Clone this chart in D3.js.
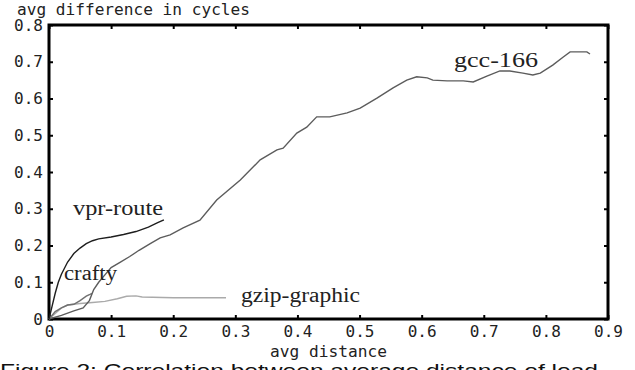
<!DOCTYPE html>
<html>
<head>
<meta charset="utf-8">
<script src="https://cdn.jsdelivr.net/npm/d3@7"></script>
<style>
  body { margin: 0; background: #fff; overflow: hidden; }
  .tick text { font-family: "DejaVu Sans Mono", monospace; font-size: 16px; fill: #222; }
  .lbl { font-family: "Liberation Serif", "Times New Roman", serif; font-size: 20px; fill: #222; }
  .axt { font-family: "DejaVu Sans Mono", monospace; font-size: 15px; fill: #222; }
</style>
</head>
<body>
<svg id="chart" width="635" height="370"></svg>
<script>
// data
var xTicks = [0, 0.1, 0.2, 0.3, 0.4, 0.5, 0.6, 0.7, 0.8, 0.9];
var yTicks = [0, 0.1, 0.2, 0.3, 0.4, 0.5, 0.6, 0.7, 0.8];

var gccX = [0, 0.02, 0.04, 0.055, 0.065, 0.072, 0.08, 0.09, 0.1, 0.115, 0.13, 0.145, 0.163, 0.179, 0.195, 0.216, 0.243, 0.27, 0.308, 0.34, 0.367, 0.377, 0.399, 0.415, 0.431, 0.452, 0.48, 0.501, 0.528, 0.554, 0.576, 0.592, 0.609, 0.618, 0.641, 0.667, 0.683, 0.705, 0.726, 0.742, 0.763, 0.779, 0.791, 0.811, 0.828, 0.839, 0.866, 0.871];
var gccY = [0, 0.01, 0.022, 0.03, 0.05, 0.08, 0.1, 0.12, 0.14, 0.155, 0.17, 0.187, 0.205, 0.221, 0.229, 0.248, 0.269, 0.324, 0.378, 0.433, 0.46, 0.465, 0.506, 0.522, 0.55, 0.55, 0.561, 0.574, 0.601, 0.629, 0.65, 0.659, 0.656, 0.65, 0.648, 0.648, 0.645, 0.661, 0.675, 0.675, 0.669, 0.664, 0.669, 0.691, 0.713, 0.727, 0.727, 0.721];

var vprX = [0, 0.005, 0.01, 0.015, 0.02, 0.03, 0.04, 0.05, 0.06, 0.07, 0.08, 0.1, 0.12, 0.14, 0.16, 0.175, 0.185];
var vprY = [0, 0.035, 0.07, 0.1, 0.122, 0.155, 0.178, 0.193, 0.205, 0.213, 0.218, 0.223, 0.23, 0.238, 0.25, 0.262, 0.27];

var craftyX = [0, 0.01, 0.02, 0.03, 0.04, 0.05, 0.06, 0.065, 0.069];
var craftyY = [0, 0.02, 0.03, 0.038, 0.04, 0.05, 0.062, 0.066, 0.07];

var gzipX = [0, 0.01, 0.02, 0.03, 0.05, 0.07, 0.09, 0.11, 0.125, 0.14, 0.15, 0.2, 0.25, 0.285];
var gzipY = [0, 0.015, 0.03, 0.038, 0.042, 0.045, 0.048, 0.055, 0.062, 0.063, 0.06, 0.058, 0.058, 0.058];

var svg = d3.select("#chart");
var plotLeft = 49, plotRight = 608, plotTop = 25, plotBottom = 319;

var x = d3.scaleLinear().domain([0, 0.9]).range([plotLeft, plotRight]);
var y = d3.scaleLinear().domain([0, 0.8]).range([plotBottom, plotTop]);

function fmt(d) { return d === 0 ? "0" : d3.format(".1f")(d); }

function styleAxis(g) {
    g.select(".domain").remove();
    g.selectAll("line").attr("stroke", "#000").attr("stroke-width", 2);
}

// axes, ticks pointing inward
svg.append("g")
    .attr("transform", "translate(0," + plotBottom + ")")
    .call(d3.axisBottom(x).tickValues(xTicks).tickFormat(fmt).tickSize(-4).tickPadding(7))
    .call(styleAxis);

svg.append("g")
    .attr("transform", "translate(" + plotLeft + ",0)")
    .call(d3.axisLeft(y).tickValues(yTicks).tickFormat(fmt).tickSize(-4).tickPadding(6))
    .call(styleAxis);

svg.append("g")
    .attr("transform", "translate(0," + plotTop + ")")
    .call(d3.axisTop(x).tickValues(xTicks).tickFormat("").tickSize(-4))
    .call(styleAxis);

svg.append("g")
    .attr("transform", "translate(" + plotRight + ",0)")
    .call(d3.axisRight(y).tickValues(yTicks).tickFormat("").tickSize(-4))
    .call(styleAxis);

svg.append("rect")
    .attr("x", plotLeft)
    .attr("y", plotTop)
    .attr("width", plotRight - plotLeft)
    .attr("height", plotBottom - plotTop)
    .attr("fill", "none")
    .attr("stroke", "#000")
    .attr("stroke-width", 3);

// series
var line = d3.line()
    .x(function(d) { return x(d[0]); })
    .y(function(d) { return y(d[1]); });

var series = [
    { xs: gzipX, ys: gzipY, color: "#aaaaaa" },
    { xs: craftyX, ys: craftyY, color: "#707070" },
    { xs: gccX, ys: gccY, color: "#5c5c5c" },
    { xs: vprX, ys: vprY, color: "#1e1e1e" }
];

series.forEach(function(s) {
    svg.append("path")
        .datum(d3.zip(s.xs, s.ys))
        .attr("d", line)
        .attr("fill", "none")
        .attr("stroke", s.color)
        .attr("stroke-width", 1.4);
});

// series labels
var labels = [
    { text: "gcc-166", x: 454, y: 67, w: 84 },
    { text: "vpr-route", x: 73, y: 215, w: 90 },
    { text: "crafty", x: 64, y: 280, w: 53 },
    { text: "gzip-graphic", x: 241, y: 302, w: 119 }
];

svg.selectAll(".lbl")
    .data(labels)
    .enter()
    .append("text")
    .attr("class", "lbl")
    .attr("x", function(d) { return d.x; })
    .attr("y", function(d) { return d.y; })
    .attr("textLength", function(d) { return d.w; })
    .attr("lengthAdjust", "spacingAndGlyphs")
    .text(function(d) { return d.text; });

// axis titles
svg.append("text")
    .attr("class", "axt")
    .attr("x", 17)
    .attr("y", 15)
    .attr("textLength", 233)
    .attr("lengthAdjust", "spacingAndGlyphs")
    .text("avg difference in cycles");

svg.append("text")
    .attr("class", "axt")
    .attr("x", 270)
    .attr("y", 357)
    .attr("textLength", 117)
    .attr("lengthAdjust", "spacingAndGlyphs")
    .text("avg distance");

// caption, cut off by the bottom edge
svg.append("text")
    .attr("x", 0)
    .attr("y", 377)
    .attr("textLength", 598)
    .attr("lengthAdjust", "spacingAndGlyphs")
    .style("font-family", "Liberation Sans, Arial, sans-serif")
    .style("font-size", "19px")
    .style("fill", "#111")
    .text("Figure 2: Correlation between average distance of load");
</script>
</body>
</html>
